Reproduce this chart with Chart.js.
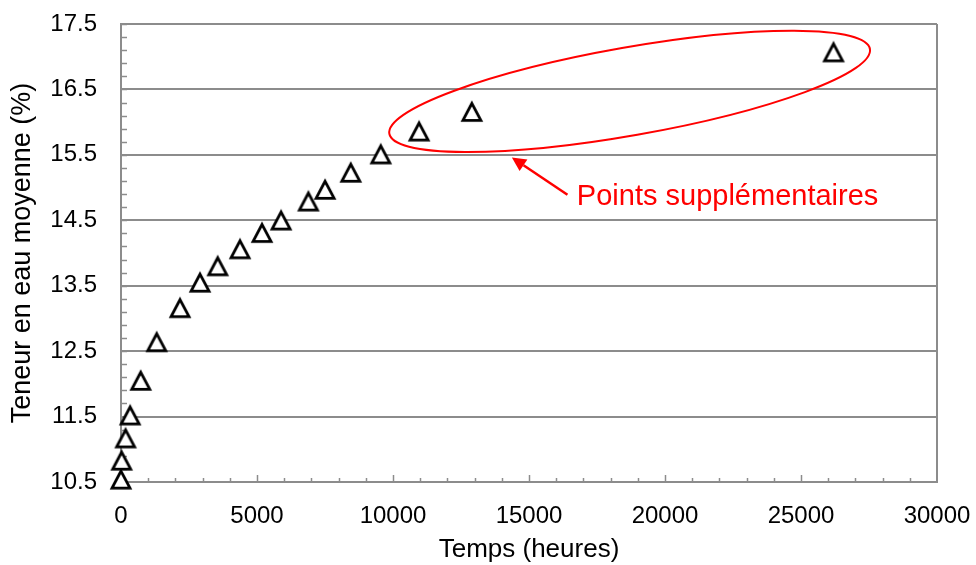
<!DOCTYPE html>
<html>
<head>
<meta charset="utf-8">
<script src="https://cdn.jsdelivr.net/npm/chart.js@4.4.1/dist/chart.umd.min.js"></script>
<style>
  body { margin: 0; background: #fff; }
  #wrap { width: 976px; height: 565px; position: relative; }
</style>
</head>
<body>
<div id="wrap"><canvas id="myChart"></canvas></div>
<script>
// values
const tempsHeures = [0, 24, 168, 336, 724, 1313, 2170, 2905, 3556, 4377, 5186, 5885, 6889, 7503, 8448, 9551, 10960, 12898, 26197];
const teneurEau   = [10.55, 10.84, 11.18, 11.53, 12.06, 12.65, 13.17, 13.56, 13.81, 14.07, 14.32, 14.51, 14.80, 14.98, 15.24, 15.52, 15.87, 16.17, 17.08];

const xTicks = [0, 5000, 10000, 15000, 20000, 25000, 30000];
const yTicks = [10.5, 11.5, 12.5, 13.5, 14.5, 15.5, 16.5, 17.5];
const xMinorStep = 1000;
const yMinorStep = 0.2;

const xTitle = 'Temps (heures)';
const yTitle = 'Teneur en eau moyenne (%)';
const noteLabel = 'Points supplémentaires';

// annotation anchors, in data units
const noteEllipse = { x: 18700, y: 16.47, rx: 244, ry: 44, angle: -10 };
const noteArrow = { fromX: 16414, fromY: 14.89, toX: 14370, toY: 15.46 };
const noteText = { x: 16760, y: 14.735 };

const GRAY = '#8c8c8c';
const RED = '#ff0000';
const FONT = "'Liberation Sans', Arial, sans-serif";

// open triangle marker, centred on its bounding box like the spreadsheet one
function makeTriangle() {
  const c = document.createElement('canvas');
  c.width = 28;
  c.height = 28;
  const g = c.getContext('2d');
  g.beginPath();
  g.moveTo(14, 6.3);
  g.lineTo(23, 23.3);
  g.lineTo(5, 23.3);
  g.closePath();
  g.fillStyle = '#fff';
  g.fill();
  g.lineWidth = 2.8;
  g.lineJoin = 'miter';
  g.strokeStyle = '#000';
  g.stroke();
  return c;
}

const decorPlugin = {
  id: 'decor',
  beforeDatasetsDraw(chart) {
    const ctx = chart.ctx;
    const xs = chart.scales.x, ys = chart.scales.y;
    const area = chart.chartArea;
    ctx.save();
    ctx.strokeStyle = GRAY;
    ctx.lineWidth = 1.5;
    // minor ticks, inside the plot
    for (let v = yTicks[0]; v <= yTicks[yTicks.length - 1] + 1e-6; v += yMinorStep) {
      const py = Math.round(ys.getPixelForValue(v)) + 0.5;
      ctx.beginPath();
      ctx.moveTo(area.left, py);
      ctx.lineTo(area.left + 6, py);
      ctx.stroke();
    }
    for (let v = xMinorStep; v < xTicks[xTicks.length - 1]; v += xMinorStep) {
      const px = Math.round(xs.getPixelForValue(v)) + 0.5;
      const len = (v % 5000 === 0) ? 7 : 4;
      ctx.beginPath();
      ctx.moveTo(px, area.bottom);
      ctx.lineTo(px, area.bottom - len);
      ctx.stroke();
    }
    ctx.restore();
  },
  afterDatasetsDraw(chart) {
    const ctx = chart.ctx;
    const xs = chart.scales.x, ys = chart.scales.y;
    ctx.save();
    ctx.strokeStyle = RED;
    ctx.fillStyle = RED;
    ctx.lineWidth = 2;

    // ellipse
    ctx.beginPath();
    ctx.ellipse(xs.getPixelForValue(noteEllipse.x), ys.getPixelForValue(noteEllipse.y),
      noteEllipse.rx, noteEllipse.ry, noteEllipse.angle * Math.PI / 180, 0, Math.PI * 2);
    ctx.stroke();

    // arrow
    const x1 = xs.getPixelForValue(noteArrow.fromX), y1 = ys.getPixelForValue(noteArrow.fromY);
    const x2 = xs.getPixelForValue(noteArrow.toX), y2 = ys.getPixelForValue(noteArrow.toY);
    const a = Math.atan2(y2 - y1, x2 - x1);
    const headLen = 14, headW = 7;
    const bx = x2 - headLen * Math.cos(a), by = y2 - headLen * Math.sin(a);
    ctx.lineWidth = 2.5;
    ctx.beginPath();
    ctx.moveTo(x1, y1);
    ctx.lineTo(bx, by);
    ctx.stroke();
    ctx.beginPath();
    ctx.moveTo(x2, y2);
    ctx.lineTo(bx + headW * Math.sin(a), by - headW * Math.cos(a));
    ctx.lineTo(bx - headW * Math.sin(a), by + headW * Math.cos(a));
    ctx.closePath();
    ctx.fill();

    // label
    ctx.font = '29px ' + FONT;
    ctx.textAlign = 'left';
    ctx.textBaseline = 'alphabetic';
    ctx.fillText(noteLabel, xs.getPixelForValue(noteText.x), ys.getPixelForValue(noteText.y));
    ctx.restore();
  }
};

const config = {
  type: 'scatter',
  data: {
    datasets: [{
      data: tempsHeures.map((t, i) => ({ x: t, y: teneurEau[i] })),
      pointStyle: makeTriangle(),
      pointRadius: 11,
      pointHoverRadius: 11,
      clip: false
    }]
  },
  options: {
    responsive: true,
    maintainAspectRatio: false,
    animation: false,
    events: [],
    layout: { padding: { left: 0, right: 39, top: 24, bottom: 0 } },
    plugins: {
      legend: { display: false },
      tooltip: { enabled: false }
    },
    scales: {
      x: {
        type: 'linear',
        min: 0,
        max: 30000,
        afterBuildTicks: s => { s.ticks = xTicks.map(v => ({ value: v })); },
        afterFit: s => { s.height = 83; s.paddingLeft = 0; s.paddingRight = 0; },
        border: { display: true, color: GRAY, width: 2 },
        grid: {
          drawTicks: false,
          color: c => (c.tick && c.tick.value === 30000) ? GRAY : 'rgba(0,0,0,0)',
          lineWidth: 2
        },
        ticks: {
          padding: 20,
          color: '#000',
          font: { family: FONT, size: 24 },
          callback: v => String(v)
        },
        title: {
          display: true,
          text: xTitle,
          color: '#000',
          font: { family: FONT, size: 26 },
          padding: { top: 0, bottom: 0 }
        }
      },
      y: {
        type: 'linear',
        min: 10.5,
        max: 17.5,
        afterBuildTicks: s => { s.ticks = yTicks.map(v => ({ value: v })); },
        afterFit: s => { s.width = 121; s.paddingTop = 0; s.paddingBottom = 0; },
        border: { display: true, color: GRAY, width: 2 },
        grid: { drawTicks: false, color: GRAY, lineWidth: 2 },
        ticks: {
          padding: 24,
          color: '#000',
          font: { family: FONT, size: 24 },
          callback: v => Number(v).toFixed(1)
        },
        title: {
          display: true,
          text: yTitle,
          color: '#000',
          font: { family: FONT, size: 27 },
          padding: { top: 6, bottom: 0 }
        }
      }
    }
  },
  plugins: [decorPlugin]
};

new Chart(document.getElementById('myChart'), config);
</script>
</body>
</html>
